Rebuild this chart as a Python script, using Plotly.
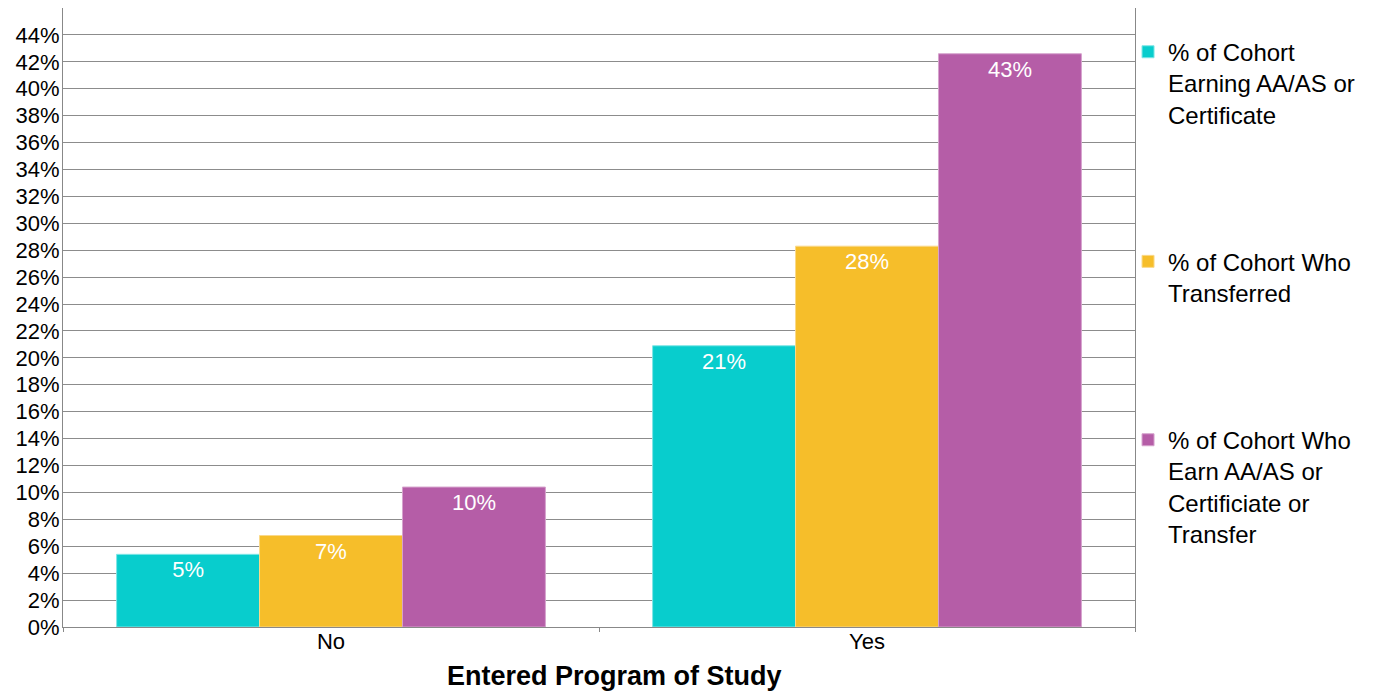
import plotly.graph_objects as go

categories = ["No", "Yes"]
series_names = [
    "% of Cohort<br>Earning AA/AS or<br>Certificate",
    "% of Cohort Who<br>Transferred",
    "% of Cohort Who<br>Earn AA/AS or<br>Certificiate or<br>Transfer",
]
earn_award = [5.4, 20.9]
transferred = [6.8, 28.3]
earn_or_transfer = [10.4, 42.6]
series_values = [earn_award, transferred, earn_or_transfer]
colors = ["#08CDCD", "#F6BE2A", "#B55DA7"]
line_colors = ["#7FE6E6", "#FAD98A", "#D6A3CD"]
y_tick_vals = list(range(0, 46, 2))
y_tick_text = [f"{v}%" for v in y_tick_vals]
x_title = "Entered Program of Study"

FONT = "Liberation Sans, Arial, sans-serif"

fig = go.Figure()
for i, (name, vals) in enumerate(zip(series_names, series_values)):
    fig.add_trace(go.Bar(
        x=categories, y=vals, name=name,
        marker=dict(color=colors[i], line=dict(color=line_colors[i], width=1)),
        texttemplate="%{y:.0f}%", textposition="inside", insidetextanchor="end",
        textfont=dict(color="white", size=22, family=FONT),
        legendgroup=f"g{i}",
    ))

fig.add_annotation(
    text=f"<b>{x_title}</b>", xref="paper", yref="paper",
    x=0.514, y=-0.079, xanchor="center", yanchor="middle",
    showarrow=False, font=dict(size=27, family=FONT, color="black"),
)

fig.update_layout(
    width=1370, height=684,
    margin=dict(l=55, r=243, t=0, b=65, autoexpand=False),
    paper_bgcolor="white", plot_bgcolor="white",
    font=dict(family=FONT, size=22, color="black"),
    barmode="group", bargap=0.2, bargroupgap=0,
    showlegend=True,
    legend=dict(
        x=0.9935, xanchor="left", y=0.965, yanchor="top",
        font=dict(size=24, family=FONT, color="black"),
        tracegroupgap=113, traceorder="grouped", valign="top",
        bgcolor="rgba(0,0,0,0)",
    ),
    xaxis=dict(
        showline=True, linecolor="#888888", linewidth=1, mirror=True,
        ticks="outside", tickson="boundaries", ticklen=4, tickcolor="#888888",
        tickfont=dict(size=22), ticklabelstandoff=-5,
        showgrid=False, automargin=False,
    ),
    yaxis=dict(
        range=[0, 46], tickmode="array", tickvals=y_tick_vals, ticktext=y_tick_text,
        showline=True, linecolor="#888888", linewidth=1, mirror=True,
        gridcolor="#8c8c8c", gridwidth=1, ticks="", tickfont=dict(size=22),
        ticklabelstandoff=-2,
        zeroline=False, automargin=False,
    ),
)

fig.write_html("out.html")
